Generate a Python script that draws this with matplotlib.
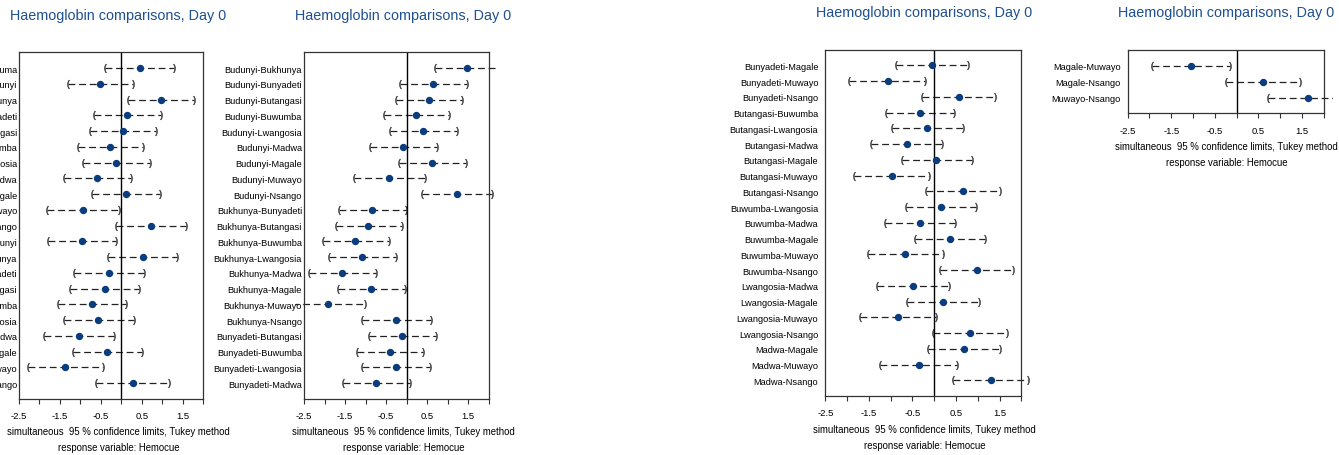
import numpy as np
import matplotlib
matplotlib.use("Agg")
import matplotlib.pyplot as plt
from matplotlib.patches import Rectangle

plt.rcParams['font.family'] = ['Liberation Sans', 'DejaVu Sans']

W, H = 1339, 456

# --- data: Tukey comparisons, estimate with lower / upper 95% limits ---
labels1 = ["Bubango-Buduma", "Bubango-Budunyi", "Bubango-Bukhunya", "Bubango-Bunyadeti",
           "Bubango-Butangasi", "Bubango-Buwumba", "Bubango-Lwangosia", "Bubango-Madwa",
           "Bubango-Magale", "Bubango-Muwayo", "Bubango-Nsango", "Buduma-Budunyi",
           "Buduma-Bukhunya", "Buduma-Bunyadeti", "Buduma-Butangasi", "Buduma-Buwumba",
           "Buduma-Lwangosia", "Buduma-Madwa", "Buduma-Magale", "Buduma-Muwayo", "Buduma-Nsango"]
est1 = [0.45, -0.52, 0.97, 0.14, 0.04, -0.27, -0.12, -0.59, 0.11, -0.93, 0.72,
        -0.96, 0.53, -0.31, -0.41, -0.71, -0.57, -1.04, -0.34, -1.38, 0.28]
lo1 = [-0.40, -1.31, 0.17, -0.66, -0.76, -1.06, -0.93, -1.40, -0.71, -1.81, -0.12,
       -1.78, -0.32, -1.16, -1.25, -1.54, -1.41, -1.90, -1.19, -2.28, -0.62]
hi1 = [1.28, 0.28, 1.78, 0.97, 0.85, 0.53, 0.71, 0.24, 0.94, -0.06, 1.57,
       -0.12, 1.37, 0.54, 0.43, 0.12, 0.30, -0.18, 0.51, -0.46, 1.16]

labels2 = ["Budunyi-Bukhunya", "Budunyi-Bunyadeti", "Budunyi-Butangasi", "Budunyi-Buwumba",
           "Budunyi-Lwangosia", "Budunyi-Madwa", "Budunyi-Magale", "Budunyi-Muwayo",
           "Budunyi-Nsango", "Bukhunya-Bunyadeti", "Bukhunya-Butangasi", "Bukhunya-Buwumba",
           "Bukhunya-Lwangosia", "Bukhunya-Madwa", "Bukhunya-Magale", "Bukhunya-Muwayo",
           "Bukhunya-Nsango", "Bunyadeti-Butangasi", "Bunyadeti-Buwumba",
           "Bunyadeti-Lwangosia", "Bunyadeti-Madwa"]
est2 = [1.48, 0.65, 0.54, 0.24, 0.39, -0.08, 0.62, -0.42, 1.23, -0.84, -0.93,
        -1.25, -1.09, -1.57, -0.86, -1.91, -0.25, -0.11, -0.41, -0.26, -0.74]
lo2 = [0.69, -0.15, -0.25, -0.55, -0.41, -0.89, -0.19, -1.29, 0.38, -1.64, -1.73,
       -2.03, -1.90, -2.38, -1.68, -2.80, -1.09, -0.92, -1.22, -1.09, -1.56]
hi2 = [2.27, 1.46, 1.35, 1.03, 1.22, 0.75, 1.44, 0.45, 2.08, -0.01, -0.12,
       -0.44, -0.27, -0.74, -0.05, -1.02, 0.60, 0.71, 0.41, 0.57, 0.09]

labels3 = ["Bunyadeti-Magale", "Bunyadeti-Muwayo", "Bunyadeti-Nsango", "Butangasi-Buwumba",
           "Butangasi-Lwangosia", "Butangasi-Madwa", "Butangasi-Magale", "Butangasi-Muwayo",
           "Butangasi-Nsango", "Buwumba-Lwangosia", "Buwumba-Madwa", "Buwumba-Magale",
           "Buwumba-Muwayo", "Buwumba-Nsango", "Lwangosia-Madwa", "Lwangosia-Magale",
           "Lwangosia-Muwayo", "Lwangosia-Nsango", "Madwa-Magale", "Madwa-Muwayo", "Madwa-Nsango"]
est3 = [-0.05, -1.07, 0.56, -0.33, -0.16, -0.63, 0.05, -0.98, 0.67, 0.15, -0.33,
        0.37, -0.67, 0.98, -0.49, 0.21, -0.82, 0.82, 0.69, -0.35, 1.30]
lo3 = [-0.87, -1.96, -0.28, -1.11, -0.98, -1.45, -0.75, -1.84, -0.18, -0.65, -1.13,
       -0.43, -1.53, 0.13, -1.31, -0.62, -1.70, -0.03, -0.14, -1.24, 0.44]
hi3 = [0.78, -0.20, 1.40, 0.46, 0.66, 0.18, 0.87, -0.12, 1.52, 0.96, 0.48,
       1.17, 0.20, 1.81, 0.34, 1.04, 0.05, 1.68, 1.51, 0.52, 2.15]

labels4 = ["Magale-Muwayo", "Magale-Nsango", "Muwayo-Nsango"]
est4 = [-1.05, 0.60, 1.64]
lo4 = [-1.94, -0.24, 0.72]
hi4 = [-0.16, 1.46, 2.55]

xticks = [-2.5, -2.0, -1.5, -1.0, -0.5, 0.0, 0.5, 1.0, 1.5, 2.0]
xtick_labels = ["-2.5", "", "-1.5", "", "-0.5", "", "0.5", "", "1.5", ""]

title = "Haemoglobin comparisons, Day 0"
note1 = "simultaneous  95 % confidence limits, Tukey method"
note2 = "response variable: Hemocue"

fig = plt.figure(figsize=(W / 100, H / 100), dpi=100)
fig.patch.set_facecolor("white")


def draw_panel(box, labels, est, lo, hi, ypad, text_x):
    left, top, right, bottom = box
    ax = fig.add_axes([left / W, 1 - bottom / H, (right - left) / W, (bottom - top) / H])
    n = len(labels)
    y = np.arange(1, n + 1)
    # plot area reaches a little past the frame, as in the original
    clip = Rectangle((-0.045, -0.05), 1.09, 1.1, transform=ax.transAxes)
    for yi, a, b in zip(y, lo, hi):
        ln, = ax.plot([a, b], [yi, yi], color="#222222", lw=0.9, ls=(0, (5.5, 3)))
        ln.set_clip_path(clip)
        for xv, m in ((a, r"$($"), (b, r"$)$")):
            cp, = ax.plot([xv], [yi], ls="none", marker=m, ms=6.3, color="#333333",
                          markeredgewidth=0.3)
            cp.set_clip_path(clip)
    ax.plot(est, y, "o", color="#0b3d7e", ms=4.3, zorder=4)
    ax.axvline(0, color="black", lw=1.0, zorder=2)
    ax.set_xlim(-2.5, 2.0)
    ax.set_ylim(n + 0.97, 0)
    ax.set_xticks(xticks)
    ax.set_xticklabels(xtick_labels)
    ax.set_yticks(y)
    ax.set_yticklabels(labels)
    ax.tick_params(axis="x", length=3.8, width=0.8, color="#333333", labelsize=6.8, pad=5.2)
    ax.tick_params(axis="y", length=0, labelsize=6.7, pad=ypad)
    for s in ax.spines.values():
        s.set_color("#333333")
        s.set_linewidth(0.9)
    fig.text(text_x / W, 1 - (top - 37.3) / H, title, ha="center", va="center",
             fontsize=10.4, color="#1f5091")
    fig.text(text_x / W, 1 - (bottom + 33) / H, note1, ha="center", va="center", fontsize=6.9)
    fig.text(text_x / W, 1 - (bottom + 49) / H, note2, ha="center", va="center", fontsize=6.9)
    return ax


draw_panel((19, 53.3, 203.3, 399.5), labels1, est1, lo1, hi1, 1.4, 118.5)
draw_panel((304, 53.3, 488.7, 399.5), labels2, est2, lo2, hi2, 1.4, 403.5)
draw_panel((825.3, 50.7, 1021.3, 396.7), labels3, est3, lo3, hi3, 5.0, 924.5)
draw_panel((1127.7, 50.7, 1323.7, 114.3), labels4, est4, lo4, hi4, 5.0, 1226.5)

fig.savefig("out.png", dpi=100)
